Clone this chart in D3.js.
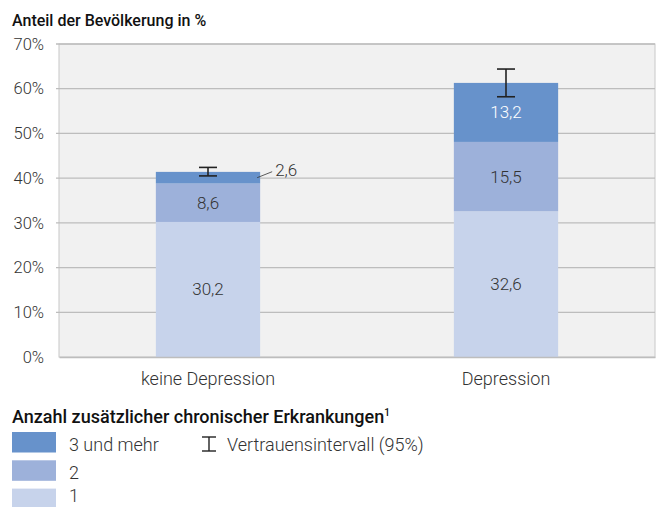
<!DOCTYPE html>
<html>
<head>
<meta charset="utf-8">
<script src="https://cdn.jsdelivr.net/npm/d3@7"></script>
<style>
  body { margin: 0; background: #fff; font-family: Roboto, sans-serif; }
  .tick text { font-family: Roboto, sans-serif; font-weight: 300; fill: #333; }
</style>
</head>
<body>
<div id="chart"></div>
<script>
// Chart data
var categories = ["keine Depression", "Depression"];
var seriesNames = ["1", "2", "3 und mehr"];
var valuesOne = [30.2, 32.6];
var valuesTwo = [8.6, 15.5];
var valuesThree = [2.6, 13.2];
var ciLow = [40.5, 58.2];
var ciHigh = [42.4, 64.4];
var yTicks = [0, 10, 20, 30, 40, 50, 60, 70];

var colors = ["#c7d3eb", "#9db1da", "#6792cb"];

var svgWidth = 658;
var svgHeight = 507;

var margin = { top: 44, right: 3, bottom: 150, left: 59 };
var chartWidth = svgWidth - margin.left - margin.right;
var chartHeight = 357 - margin.top;

var svg = d3.select("#chart")
  .append("svg")
  .attr("width", svgWidth)
  .attr("height", svgHeight);

// Title
svg.append("text")
  .attr("x", 12)
  .attr("y", 26)
  .attr("font-size", 16)
  .attr("font-weight", 500)
  .attr("fill", "#111")
  .text("Anteil der Bevölkerung in %");

var chartGroup = svg.append("g")
  .attr("transform", `translate(${margin.left}, ${margin.top})`);

// Plot background
chartGroup.append("rect")
  .attr("width", chartWidth)
  .attr("height", chartHeight)
  .attr("fill", "#f1f1f1")
  .attr("stroke", "#c8c8c8");

var xBandScale = d3.scaleBand()
  .domain(categories)
  .range([0, chartWidth])
  .paddingInner(0.65)
  .paddingOuter(0.325);

var yLinearScale = d3.scaleLinear()
  .domain([0, 70])
  .range([chartHeight, 0]);

// Gridlines
chartGroup.append("g")
  .selectAll("line")
  .data(yTicks.slice(1))
  .enter()
  .append("line")
  .attr("x1", -3)
  .attr("x2", chartWidth)
  .attr("y1", d => yLinearScale(d))
  .attr("y2", d => yLinearScale(d))
  .attr("stroke", "#bdbdbd")
  .attr("stroke-width", 1.3);

// Stacked data
var rows = categories.map(function(c, i) {
  return { cat: c, "1": valuesOne[i], "2": valuesTwo[i], "3 und mehr": valuesThree[i] };
});
var stacked = d3.stack().keys(seriesNames)(rows);

var layers = chartGroup.selectAll(".layer")
  .data(stacked)
  .enter()
  .append("g")
  .attr("fill", (d, i) => colors[i]);

layers.selectAll("rect")
  .data(d => d)
  .enter()
  .append("rect")
  .attr("x", d => xBandScale(d.data.cat))
  .attr("y", d => yLinearScale(d[1]))
  .attr("width", xBandScale.bandwidth())
  .attr("height", d => yLinearScale(d[0]) - yLinearScale(d[1]));

// Segment labels
stacked.forEach(function(layer, li) {
  layer.forEach(function(d, ci) {
    var val = d[1] - d[0];
    var label = val.toFixed(1).replace(".", ",");
    var cx = xBandScale(d.data.cat) + xBandScale.bandwidth() / 2;
    var cy = yLinearScale((d[0] + d[1]) / 2);
    if (val < 5) {
      // small segment: label outside with leader line
      var x0 = xBandScale(d.data.cat) + xBandScale.bandwidth() - 3;
      chartGroup.append("line")
        .attr("x1", x0)
        .attr("y1", cy)
        .attr("x2", x0 + 15)
        .attr("y2", cy - 6)
        .attr("stroke", "#333")
        .attr("stroke-width", 0.8);
      chartGroup.append("text")
        .attr("x", x0 + 18)
        .attr("y", cy - 2)
        .attr("font-size", 17)
        .attr("font-weight", 300)
        .attr("fill", "#333")
        .text(label);
    } else {
      chartGroup.append("text")
        .attr("x", cx)
        .attr("y", cy + 6)
        .attr("text-anchor", "middle")
        .attr("font-size", 17)
        .attr("font-weight", 300)
        .attr("fill", li === 2 ? "#fff" : "#333")
        .text(label);
    }
  });
});

// Confidence intervals
categories.forEach(function(c, i) {
  var cx = xBandScale(c) + xBandScale.bandwidth() / 2;
  var g = chartGroup.append("g")
    .attr("stroke", "#222")
    .attr("stroke-width", 1.6);
  g.append("line")
    .attr("x1", cx).attr("x2", cx)
    .attr("y1", yLinearScale(ciHigh[i])).attr("y2", yLinearScale(ciLow[i]));
  g.append("line")
    .attr("x1", cx - 9).attr("x2", cx + 9)
    .attr("y1", yLinearScale(ciHigh[i])).attr("y2", yLinearScale(ciHigh[i]));
  g.append("line")
    .attr("x1", cx - 9).attr("x2", cx + 9)
    .attr("y1", yLinearScale(ciLow[i])).attr("y2", yLinearScale(ciLow[i]));
});

// Axes
var leftAxis = d3.axisLeft(yLinearScale)
  .tickValues(yTicks)
  .tickSize(0)
  .tickPadding(15)
  .tickFormat(d => d + "%");

var leftG = chartGroup.append("g").call(leftAxis);
leftG.select(".domain").remove();
leftG.selectAll("text").attr("font-size", 16.5);

var bottomAxis = d3.axisBottom(xBandScale).tickSize(0).tickPadding(15);
var bottomG = chartGroup.append("g")
  .attr("transform", `translate(0, ${chartHeight})`)
  .call(bottomAxis);
bottomG.select(".domain").attr("stroke", "#bdbdbd").attr("stroke-width", 1.3);
bottomG.selectAll("text").attr("font-size", 18);

// Legend
var legend = svg.append("g");
legend.append("text")
  .attr("x", 12)
  .attr("y", 423)
  .attr("font-size", 18)
  .attr("font-weight", 500)
  .attr("fill", "#111")
  .text("Anzahl zusätzlicher chronischer Erkrankungen")
  .append("tspan")
  .attr("dy", -7)
  .attr("font-size", 10)
  .text("1");

var legendItems = seriesNames.slice().reverse();
var legendColors = colors.slice().reverse();
legendItems.forEach(function(name, i) {
  var y = 432 + i * 28.3;
  legend.append("rect")
    .attr("x", 12)
    .attr("y", y)
    .attr("width", 44)
    .attr("height", 20.5)
    .attr("fill", legendColors[i]);
  legend.append("text")
    .attr("x", 69)
    .attr("y", Math.min(y + 19, 502))
    .attr("font-size", 18)
    .attr("font-weight", 300)
    .attr("fill", "#333")
    .text(name);
});

// CI legend icon
var ci = legend.append("g").attr("stroke", "#222").attr("stroke-width", 1.4);
ci.append("line").attr("x1", 209).attr("x2", 209).attr("y1", 437).attr("y2", 451);
ci.append("line").attr("x1", 202).attr("x2", 216).attr("y1", 437).attr("y2", 437);
ci.append("line").attr("x1", 202).attr("x2", 216).attr("y1", 451).attr("y2", 451);
legend.append("text")
  .attr("x", 227)
  .attr("y", 451)
  .attr("font-size", 18)
  .attr("font-weight", 300)
  .attr("fill", "#333")
  .text("Vertrauensintervall (95%)");
</script>
</body>
</html>
